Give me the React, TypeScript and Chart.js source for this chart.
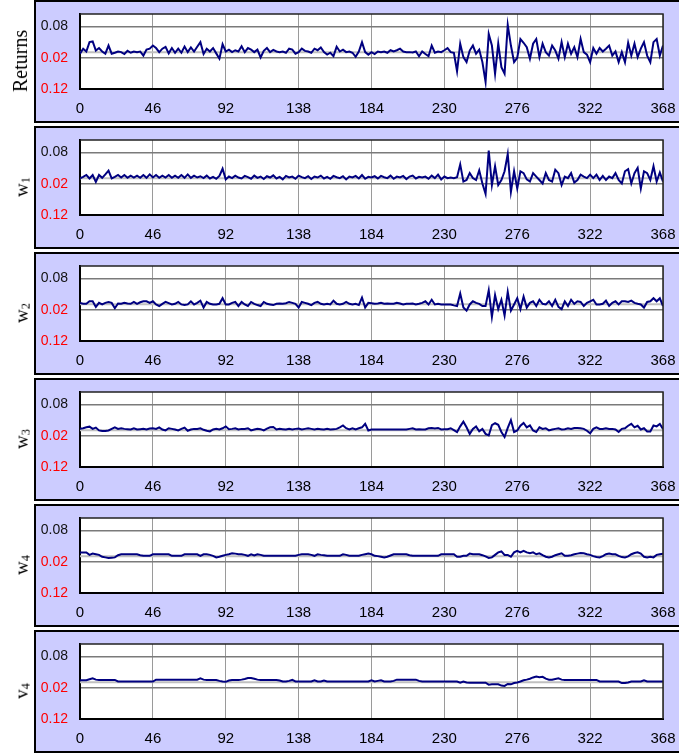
import React, { useEffect, useRef } from "react";
import { Chart, registerables } from "chart.js";

Chart.register(...registerables);
Chart.defaults.font.family = '"Liberation Sans", Arial, sans-serif';

// x axis
const X_TICKS = [0, 46, 92, 138, 184, 230, 276, 322, 368];
const X_MAX = 368;
const SAMPLE_STEP = 2; // observations between two stored samples
// y axis (labels shown without sign, negatives in red)
const Y_TICKS = [-0.12, -0.02, 0.08];
const Y_MIN = -0.12;
const Y_MAX = 0.12;
const UNIT = 0.001; // series values below are in thousandths
const BASE_LEVEL = -0.002; // grey reference line

// Returns
const returnsValues = [
  -7, 9, 0, 30, 32, 3, 11, 0, -7, 19,
  -7, -4, 0, -2, -8, 2, -4, 0, -2, 0,
  -13, 6, 9, 19, 11, -2, 9, 15, -6, 11,
  -4, 9, -4, 16, -2, 13, 0, 15, 30, -8,
  9, 0, 11, -6, -23, 23, 0, 6, -2, 4,
  0, 17, -2, 11, 6, -2, 6, -19, 2, 11,
  -2, 5, 0, -2, 0, -4, 9, 6, -7, -2,
  9, 2, 0, -4, 9, 4, 13, -2, -10, -4,
  -15, 15, 0, 6, -2, 0, -4, -17, 0, 30,
  -2, -10, -2, -8, 0, -2, 0, -4, 4, 0,
  4, 9, 0, -2, -2, -3, 0, -15, 0, -8,
  -15, 19, -4, 0, -2, 4, 11, -2, -4, -63,
  25, -18, -34, 3, 19, -7, 6, -34, -97, 56,
  19, -71, 25, -50, -71, 85, 19, -34, -20, 40,
  28, 14, -23, 25, 40, -18, 25, -2, -13, 19,
  3, -23, 30, -18, 25, -7, 14, -18, 40, -2,
  -10, -34, 11, -7, 11, 0, 9, 19, -13, 0,
  -34, -2, -34, 28, -13, 25, -18, 9, 30, -13,
  -34, 30, 40, -13, 19,
];

// w1
const w1Values = [
  -3, 2, 8, -3, 8, -14, 8, -1, 10, 22,
  -3, 2, 8, 0, 8, -1, 6, 0, 6, -1,
  8, -1, 10, 0, 8, -1, 6, 0, 8, -1,
  6, -1, 8, -1, 10, -1, 6, 0, 4, -2,
  6, -3, 2, -4, 5, 28, -6, 3, -2, 6,
  0, -3, 5, 1, -4, 6, -1, 3, -5, 4,
  0, 7, -3, 2, -6, 5, 0, 3, -4, 6,
  1, -2, 4, -5, 3, 0, 6, -3, 2, -4,
  5, 1, -2, 4, -6, 3, 0, 5, -3, 8,
  -4, 2, 0, 4, -3, 5, 1, -2, 6, -4,
  3, 0, 5, -5, 3, 6, -3, 2, 0, 3,
  -4, 6, -2, 9, -6, 3, -2, 0, -2, 1,
  42, -13, -8, 14, -2, -8, 23, -19, -52, 86,
  -24, 36, -24, -8, 20, 75, -46, 20, -35, 20,
  14, -6, -13, 14, 3, -8, -19, 14, -8, -13,
  25, 14, -24, 3, -2, 14, -16, -8, 9, 3,
  -2, 9, -2, 9, -8, 5, -8, 3, -2, 14,
  -8, -19, 20, 27, -19, 14, 31, -35, 20, 14,
  -8, 36, -13, 16, -13,
];

// w2
const w2Values = [
  2, -1, -1, 7, 7, -11, 2, -3, 2, 5,
  2, -15, 0, -1, 2, 0, -1, 5, -1, 4,
  7, 7, 2, 7, -3, -8, -1, 5, 1, -3,
  -1, 5, -3, -5, -3, 7, -3, 2, 9, -13,
  5, -1, -3, -3, -1, 17, -3, -3, 2, 5,
  -8, 5, -3, -8, 5, -1, -5, -8, 5, -1,
  -3, -5, -1, 0, -1, 1, 5, 2, -1, -13,
  5, 2, -1, -5, 2, 5, -1, -3, -1, -3,
  9, -1, -3, -1, 5, -1, -3, -1, -5, 19,
  -13, 2, 1, -1, 0, 2, -1, 0, -1, -1,
  2, 0, -3, -1, -1, 0, -3, -1, 2, 7,
  -3, 12, -3, -1, -3, -3, -3, -3, -6, -8,
  32, -13, -23, -3, 7, 2, -1, -8, -8, 42,
  -43, 27, -18, 12, -38, 37, -23, -3, 17, -18,
  22, -13, 2, 7, -8, 12, -1, -3, 7, -8,
  12, -11, -18, 7, -8, 12, -1, 7, 5, -8,
  2, 7, 12, -3, -3, -1, 9, -8, 2, 7,
  -3, 7, 7, 5, 9, 2, -1, -3, -13, 5,
  7, 17, 7, 17, -8,
];

// w3
const w3Values = [
  2, 4, 7, 9, 2, 6, -3, -5, -5, -3,
  2, 7, 2, 4, 2, 1, 0, 4, 0, 1,
  2, 0, 3, 4, 2, 7, 0, -3, 4, 2,
  0, -3, 2, 6, -4, 0, 2, 2, 4, -1,
  -4, -6, 0, 2, 0, 4, 10, 1, 2, 4,
  0, 2, 2, 4, -3, 0, 2, 1, -3, 3,
  7, 8, 0, 2, 1, 0, 2, 0, 2, 3,
  0, 2, 4, 2, 0, 2, 1, 0, 2, 0,
  1, 2, 7, 13, 4, 0, 4, 0, 4, 7,
  18, -3, 0, 0, 0, 0, 0, 0, 0, 0,
  0, 0, 0, 0, 2, 4, 0, 1, 0, 0,
  4, 5, 3, 5, 0, 1, 1, 4, -2, -8,
  10, 25, 7, -14, 2, 10, -6, 2, -14, -19,
  14, 20, 15, -8, -24, 5, 30, -8, -3, 12,
  21, 7, 13, -3, -8, 7, 2, 4, -3, 0,
  2, 4, 0, 1, 4, 2, 5, 5, 4, 2,
  -4, -12, 2, 7, 2, 2, 4, 2, 2, 0,
  -8, 2, 4, 12, 18, 7, 12, 0, 4, -6,
  -6, 13, 10, 18, 2,
];

// w4
const w4Values = [
  10, 10, 10, 2, 6, 4, 2, -4, -6, -8,
  -7, -6, 1, 4, 4, 4, 4, 4, 4, 1,
  -1, -1, -1, 4, 4, 4, 4, 4, 4, -1,
  -1, -1, -1, 4, 4, 4, 4, 4, -1, 4,
  4, 2, -1, -6, -4, -1, 2, 4, 7, 6,
  4, 4, 2, -1, 4, 0, 4, 2, -1, -1,
  -1, -1, -1, -1, -1, -1, -1, -1, -1, 2,
  4, 4, 4, 2, -1, 4, 2, 1, -1, -1,
  -1, -1, -1, 4, 2, -1, -1, -1, -1, 2,
  4, 6, 4, -1, -2, -4, -6, -4, 0, 4,
  4, 4, 4, 4, 1, -1, -1, -1, -1, -1,
  -1, -1, -1, -1, 4, 4, 4, 4, 4, -4,
  -4, -1, -1, 6, 4, 4, 4, 1, -3, -8,
  -6, 2, 10, 13, 2, 2, -4, 10, 15, 10,
  15, 10, 7, 10, 4, 7, 1, -4, -6, -4,
  1, 4, 7, -1, -1, 1, 4, 6, 8, 7,
  4, 2, -2, -5, -6, -2, 4, 6, 4, 4,
  -1, -5, -6, -3, 4, 8, 10, 6, -4, -6,
  -4, -6, 2, 4, 6,
];

// v4
const v4Values = [
  4, 4, 4, 7, 10, 6, 5, 5, 5, 5,
  5, 5, 0, 0, 0, 0, 0, 0, 0, 0,
  0, 0, 0, 0, 6, 6, 6, 6, 6, 6,
  6, 6, 6, 6, 6, 6, 6, 6, 10, 6,
  5, 5, 5, 5, 2, 0, -1, 3, 5, 5,
  5, 6, 8, 11, 11, 9, 6, 5, 5, 5,
  5, 5, 5, 3, 0, 0, 2, 5, 0, 0,
  0, 0, 0, 0, 4, 0, 0, 3, 0, 0,
  0, 0, 0, 0, 0, 0, 0, 0, 0, 0,
  0, 0, 4, 0, 2, 4, 0, 0, 0, 2,
  6, 6, 6, 6, 6, 6, 6, 2, 0, 0,
  0, 0, 0, 0, 0, 0, 0, 0, 0, 0,
  -4, 0, -3, -4, -4, -4, -4, -4, -4, -10,
  -9, -9, -9, -13, -14, -8, -9, -5, -3, 0,
  4, 6, 9, 13, 16, 14, 15, 9, 6, 6,
  8, 10, 6, 5, 5, 5, 5, 5, 5, 5,
  5, 5, 5, 5, 0, 0, 0, 0, 0, 0,
  0, -5, -5, -3, 0, 0, 0, 0, 4, 0,
  0, 0, 0, 0, 0,
];

const PANELS = [
  { name: "Returns", sub: "", values: returnsValues },
  { name: "w", sub: "1", values: w1Values },
  { name: "w", sub: "2", values: w2Values },
  { name: "w", sub: "3", values: w3Values },
  { name: "w", sub: "4", values: w4Values },
  { name: "v", sub: "4", values: v4Values },
];

const W = 679;
const PANEL_H = 126;

const framePlugin = {
  id: "frame",
  beforeDraw(chart: any) {
    const { ctx, chartArea: a } = chart;
    ctx.save();
    ctx.fillStyle = "#ffffff";
    ctx.fillRect(a.left, a.top, a.right - a.left, a.bottom - a.top);
    ctx.restore();
  },
  afterDraw(chart: any) {
    const { ctx, chartArea: a } = chart;
    ctx.save();
    ctx.strokeStyle = "#222222";
    ctx.lineWidth = 1.5;
    ctx.beginPath();
    ctx.moveTo(a.left, a.top);
    ctx.lineTo(a.right, a.top);
    ctx.lineTo(a.right, a.bottom);
    ctx.stroke();
    ctx.restore();
  },
};

function Panel({ values, name, sub, top }: { values: number[]; name: string; sub: string; top: number }) {
  const ref = useRef<HTMLCanvasElement>(null);
  useEffect(() => {
    const pts = values.map((v, i) => ({ x: i * SAMPLE_STEP, y: v * UNIT }));
    const chart = new Chart(ref.current as HTMLCanvasElement, {
      type: "line",
      data: {
        datasets: [
          {
            data: pts,
            borderColor: "#000080",
            borderWidth: 2,
            pointRadius: 0,
            tension: 0,
            order: 1,
          },
          {
            data: [
              { x: 0, y: BASE_LEVEL },
              { x: X_MAX, y: BASE_LEVEL },
            ],
            borderColor: "#c0c0c0",
            borderWidth: 2,
            pointRadius: 0,
            order: 2,
          },
        ],
      },
      options: {
        animation: false,
        responsive: false,
        events: [],
        layout: { padding: { top: 14, right: 16, bottom: 0, left: 0 } },
        plugins: { legend: { display: false }, tooltip: { enabled: false } },
        scales: {
          x: {
            type: "linear",
            min: 0,
            max: X_MAX,
            afterBuildTicks: (s: any) => {
              s.ticks = X_TICKS.map((v) => ({ value: v }));
            },
            afterFit: (s: any) => {
              s.height = 37;
              s.paddingLeft = 0;
              s.paddingRight = 0;
            },
            grid: { color: "#9a9a9a", lineWidth: 1, drawTicks: false },
            border: { display: true, color: "#000000", width: 2 },
            ticks: {
              padding: 11,
              color: "#000000",
              maxRotation: 0,
              autoSkip: false,
              font: { size: 15 },
              callback: (v: any) => String(v),
            },
          },
          y: {
            type: "linear",
            min: Y_MIN,
            max: Y_MAX,
            afterBuildTicks: (s: any) => {
              s.ticks = Y_TICKS.map((v) => ({ value: v }));
            },
            afterFit: (s: any) => {
              s.width = 80;
              s.paddingTop = 0;
              s.paddingBottom = 0;
            },
            grid: { color: "#7a7a7a", lineWidth: 1.5, drawTicks: false },
            border: { display: true, color: "#000000", width: 2 },
            ticks: {
              padding: 12,
              color: (c: any) => (c.tick && c.tick.value < 0 ? "#ff0000" : "#111111"),
              font: { size: 14 },
              callback: (v: any) => Math.abs(Number(v)).toFixed(2),
            },
          },
        },
      } as any,
      plugins: [framePlugin],
    });
    return () => chart.destroy();
  }, [values]);

  return (
    <div style={{ position: "absolute", left: 0, top, width: W, height: PANEL_H }}>
      <div
        style={{
          position: "absolute",
          left: 34,
          top: 0,
          width: W - 34 + 4,
          height: 123,
          background: "#ccccff",
          border: "2px solid #000",
          boxSizing: "border-box",
        }}
      />
      <canvas
        ref={ref}
        width={W}
        height={PANEL_H}
        style={{ position: "absolute", left: 0, top: 0, width: W, height: PANEL_H }}
      />
      <div
        style={{
          position: "absolute",
          left: sub ? 22 : 20,
          top: 61,
          transform: "translate(-50%, -50%) rotate(-90deg)",
          fontFamily: '"Liberation Serif", "Times New Roman", serif',
          fontSize: sub ? 19 : 20,
          lineHeight: 1,
          whiteSpace: "nowrap",
          color: "#000",
        }}
      >
        {name}
        {sub ? <sub style={{ fontSize: "0.65em", verticalAlign: "-0.2em" }}>{sub}</sub> : null}
      </div>
    </div>
  );
}

export default function App() {
  return (
    <div style={{ position: "relative", width: W, height: 755, overflow: "hidden", background: "#fff" }}>
      <style>{`body{margin:0;}`}</style>
      {PANELS.map((p, i) => (
        <Panel key={i} values={p.values} name={p.name} sub={p.sub} top={i * PANEL_H} />
      ))}
    </div>
  );
}
